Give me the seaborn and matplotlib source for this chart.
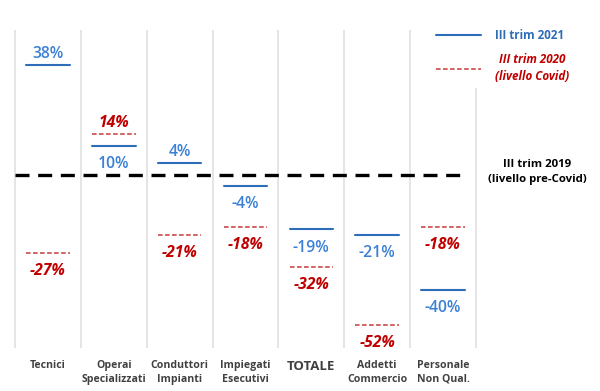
import numpy as np
import pandas as pd
import matplotlib
matplotlib.use("Agg")
import matplotlib.pyplot as plt
from matplotlib.lines import Line2D
import seaborn as sns

categories = ["Tecnici", "Operai\nSpecializzati", "Conduttori\nImpianti",
              "Impiegati\nEsecutivi", "TOTALE", "Addetti\nCommercio",
              "Personale\nNon Qual."]
values_2021 = [38, 10, 4, -4, -19, -21, -40]
values_2020 = [-27, 14, -21, -18, -32, -52, -18]
pos_2021 = ["above", "below", "above", "below", "below", "below", "below"]
pos_2020 = ["below", "above", "below", "below", "below", "below", "below"]
series_names = ["III trim 2021", "III trim 2020\n(livello Covid)"]
baseline_label = "III trim 2019\n(livello pre-Covid)"

sns.set_theme(style="white")
plt.rcParams["font.family"] = ["Open Sans", "DejaVu Sans"]

BLUE_LINE = "#2E6DB8"
BLUE_TXT = "#3A80D6"
RED_LINE = "#C83A3A"
RED_TXT = "#C00000"

half = 0.33
rows = []
for i, c in enumerate(categories):
    for s, vals in zip(series_names, [values_2021, values_2020]):
        for dx in (-half, half):
            rows.append({"x": i + dx, "y": vals[i], "series": s, "cat": c})
df = pd.DataFrame(rows)

fig = plt.figure(figsize=(6, 3.91), dpi=100)
ax = fig.add_axes([15 / 600, 1 - 348 / 391, (476 - 15) / 600, (348 - 30) / 391])

ymin, ymax = -60, 50
ax.set_ylim(ymin, ymax)
ax.set_xlim(-0.5, len(categories) - 0.5)

# grid separators
ax.vlines(np.arange(-0.5, len(categories)), ymin, ymax, color="#e3e3e3",
          lw=1.3, zorder=0, clip_on=False)

# baseline
ax.axhline(0, xmin=0, xmax=0.983, color="black", lw=2.4,
           dashes=(4.2, 2.6), zorder=2)

d21 = df[df.series == series_names[0]]
d20 = df[df.series == series_names[1]]
sns.lineplot(data=d21, x="x", y="y", units="cat", estimator=None, sort=False,
             color=BLUE_LINE, lw=1.5, ax=ax, legend=False, zorder=3)
sns.lineplot(data=d20, x="x", y="y", units="cat", estimator=None, sort=False,
             color=RED_LINE, lw=1.1, ax=ax, legend=False, zorder=3)
for ln in ax.lines[-len(categories):]:
    ln.set_dashes((3.0, 1.6))

def put(vals, poss, color, style):
    for i, (v, p) in enumerate(zip(vals, poss)):
        off = 8 if p == "above" else -13
        ax.annotate(f"{v}%", (i, v), xytext=(0, off), textcoords="offset points",
                    ha="center", va="center", color=color, fontsize=11.3,
                    fontweight="bold" if style == "italic" else "semibold",
                    fontstyle=style)

put(values_2021, pos_2021, BLUE_TXT, "normal")
put(values_2020, pos_2020, RED_TXT, "italic")

ax.set_xticks(range(len(categories)))
ax.set_xticklabels(categories)
for t in ax.get_xticklabels():
    t.set_fontweight("bold")
    t.set_color("#404040")
    t.set_fontsize(9.5 if t.get_text() == "TOTALE" else 7.6)
    t.set_linespacing(1.35)
ax.tick_params(axis="x", length=0, pad=8.5)
ax.set_yticks([])
ax.set_xlabel("")
ax.set_ylabel("")
for s in ax.spines.values():
    s.set_visible(False)

handles = [Line2D([], [], color=BLUE_LINE, lw=1.5),
           Line2D([], [], color=RED_LINE, lw=1.1, dashes=(3.0, 1.6))]
leg = fig.legend(handles, series_names, loc="upper left",
                 bbox_to_anchor=(425 / 600, 1 - 19 / 391), frameon=True,
                 facecolor="white", edgecolor="none", framealpha=1,
                 handlelength=3.9, handletextpad=1.2, labelspacing=0.9,
                 prop={"size": 8.4, "weight": "bold"})
tx = leg.get_texts()
tx[0].set_color(BLUE_LINE)
tx[1].set_color(RED_TXT)
tx[1].set_fontstyle("italic")
for t in tx:
    t.set_multialignment("center")
    t.set_linespacing(1.45)

fig.text(537 / 600, 1 - 172 / 391, baseline_label, ha="center", va="center",
         fontsize=8.2, fontweight="bold", color="black", linespacing=1.55)

fig.savefig("out.png", dpi=100)
